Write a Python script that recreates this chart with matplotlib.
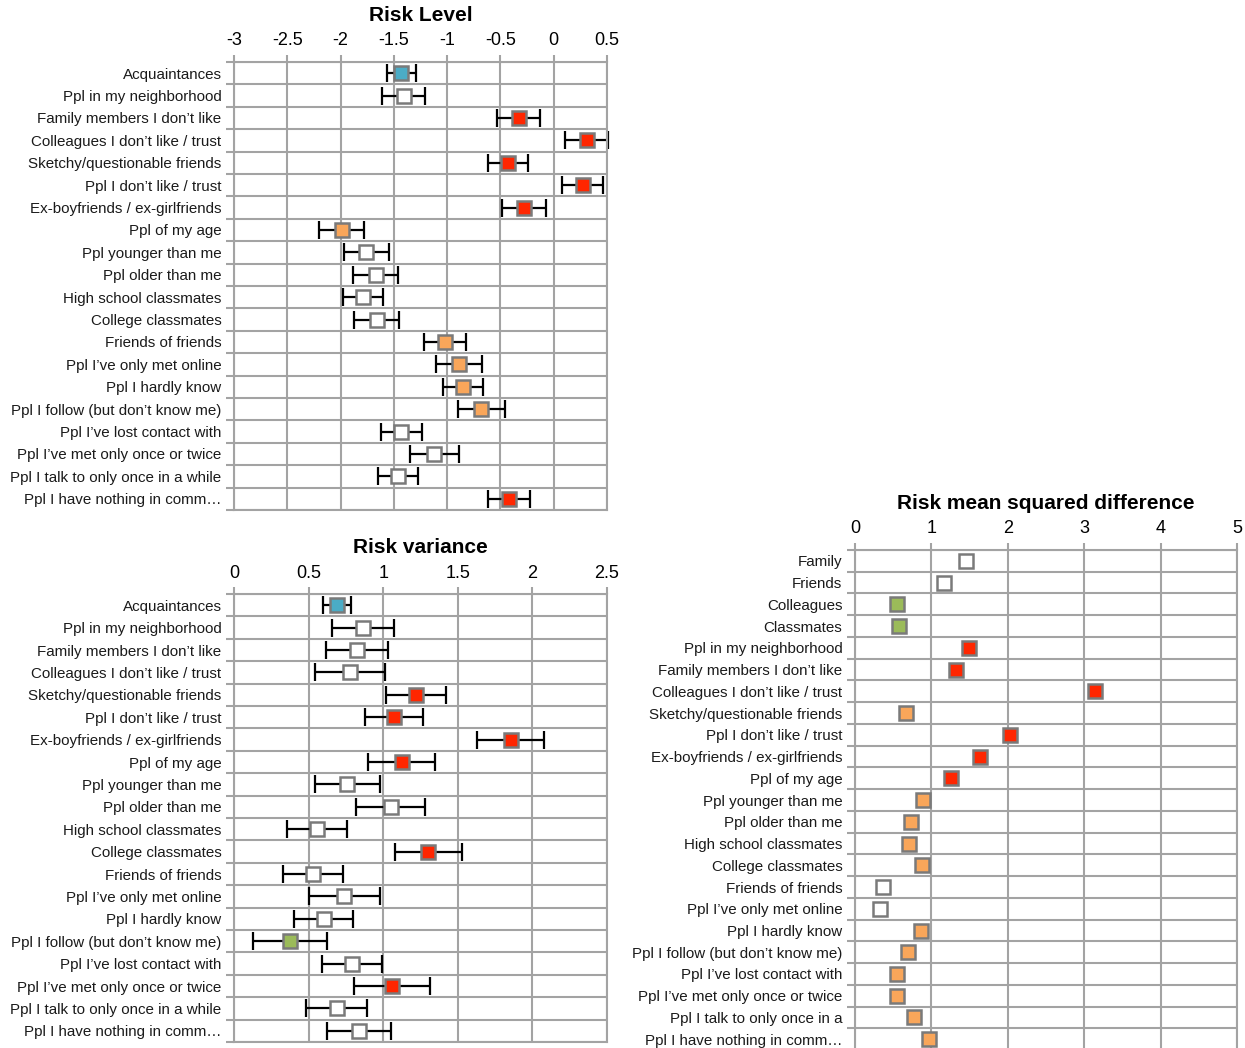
import numpy as np
import matplotlib
matplotlib.use('Agg')
import matplotlib.pyplot as plt
from matplotlib.ticker import FixedLocator

# row labels shared by the two left panels
groups = ['Acquaintances', 'Ppl in my neighborhood', 'Family members I don\u2019t like',
          'Colleagues I don\u2019t like / trust', 'Sketchy/questionable friends',
          'Ppl I don\u2019t like / trust', 'Ex-boyfriends / ex-girlfriends', 'Ppl of my age',
          'Ppl younger than me', 'Ppl older than me', 'High school classmates',
          'College classmates', 'Friends of friends', 'Ppl I\u2019ve only met online',
          'Ppl I hardly know', 'Ppl I follow (but don\u2019t know me)', 'Ppl I\u2019ve lost contact with',
          'Ppl I\u2019ve met only once or twice', 'Ppl I talk to only once in a while',
          'Ppl I have nothing in comm\u2026']

# risk level: mean and half-width of the interval
level_mean = [-1.43, -1.41, -0.33, 0.31, -0.43, 0.27, -0.28, -1.99, -1.76, -1.67,
              -1.79, -1.66, -1.02, -0.89, -0.85, -0.68, -1.43, -1.12, -1.46, -0.42]
level_err = [0.135, 0.20, 0.20, 0.20, 0.19, 0.19, 0.21, 0.21, 0.21, 0.21,
             0.19, 0.21, 0.20, 0.215, 0.19, 0.22, 0.19, 0.23, 0.19, 0.20]
level_col = ['b', 'w', 'r', 'r', 'r', 'r', 'r', 'o', 'w', 'w',
             'w', 'w', 'o', 'o', 'o', 'o', 'w', 'w', 'w', 'r']

# risk variance
var_mean = [0.69, 0.865, 0.823, 0.776, 1.219, 1.069, 1.855, 1.124, 0.76, 1.05,
            0.554, 1.303, 0.528, 0.739, 0.60, 0.375, 0.792, 1.058, 0.689, 0.839]
var_err = [0.092, 0.21, 0.21, 0.235, 0.20, 0.194, 0.225, 0.223, 0.22, 0.23,
           0.20, 0.225, 0.20, 0.24, 0.20, 0.25, 0.20, 0.255, 0.205, 0.215]
var_col = ['b', 'w', 'w', 'w', 'r', 'r', 'r', 'r', 'w', 'w',
           'w', 'r', 'w', 'w', 'w', 'g', 'w', 'r', 'w', 'w']

# risk mean squared difference
msd_groups = ['Family', 'Friends', 'Colleagues', 'Classmates', 'Ppl in my neighborhood',
              'Family members I don\u2019t like', 'Colleagues I don\u2019t like / trust',
              'Sketchy/questionable friends', 'Ppl I don\u2019t like / trust',
              'Ex-boyfriends / ex-girlfriends', 'Ppl of my age', 'Ppl younger than me',
              'Ppl older than me', 'High school classmates', 'College classmates',
              'Friends of friends', 'Ppl I\u2019ve only met online', 'Ppl I hardly know',
              'Ppl I follow (but don\u2019t know me)', 'Ppl I\u2019ve lost contact with',
              'Ppl I\u2019ve met only once or twice', 'Ppl I talk to only once in a',
              'Ppl I have nothing in comm\u2026']
msd_val = [1.45, 1.17, 0.55, 0.58, 1.49, 1.32, 3.14, 0.67, 2.035, 1.634, 1.263, 0.892,
           0.73, 0.705, 0.882, 0.365, 0.324, 0.866, 0.689, 0.553, 0.548, 0.767, 0.966]
msd_col = ['w', 'w', 'g', 'g', 'r', 'r', 'r', 'o', 'r', 'r', 'r', 'o',
           'o', 'o', 'o', 'w', 'w', 'o', 'o', 'o', 'o', 'o', 'o']

palette = {'b': '#4BACC6', 'w': '#FFFFFF', 'r': '#FF2600', 'o': '#F9A65A', 'g': '#9BBB59'}
grid_c = '#A3A3A3'
label_font = 'Liberation Sans'

fig = plt.figure(figsize=(12.45, 10.48), dpi=100)


def panel(rect, title, labels, vals, cols, xlim, xstep, err=None):
    ax = fig.add_axes(rect)
    n = len(labels)
    y = np.arange(n)
    ax.set_xlim(*xlim)
    ax.set_ylim(n - 0.5, -0.5)
    ax.set_xticks(np.arange(xlim[0], xlim[1] + 1e-9, xstep))
    ax.set_xticklabels(['%g' % t for t in ax.get_xticks()], fontsize=13,
                       family='Liberation Sans')
    ax.xaxis.tick_top()
    ax.tick_params(axis='x', length=5, width=1.5, color=grid_c, pad=4)
    ax.set_yticks(y)
    ax.set_yticklabels(labels, fontsize=10.9, family=label_font, color='#1a1a1a')
    ax.tick_params(axis='y', which='major', length=0, pad=9)
    ax.yaxis.set_minor_locator(FixedLocator(np.arange(n + 1) - 0.5))
    ax.tick_params(axis='y', which='minor', length=6, width=1.5, color=grid_c)
    ax.grid(axis='x', which='major', color=grid_c, lw=1.5, zorder=0)
    ax.grid(axis='y', which='minor', color=grid_c, lw=1.5, zorder=0)
    for s in ax.spines.values():
        s.set_color(grid_c)
        s.set_linewidth(1.5)
    ax.set_axisbelow(True)
    if err is not None:
        ax.errorbar(vals, y, xerr=err, fmt='none', ecolor='black', elinewidth=1.6,
                    capsize=6.5, capthick=1.6, zorder=2, clip_on=False)
    for xi, yi, c in zip(vals, y, cols):
        ax.plot(xi, yi, 's', ms=9.5, mfc=palette[c], mec='#7A7A7A', mew=1.8,
                zorder=3, clip_on=False)
    ax.set_title(title, fontsize=15, fontweight='bold', family='Liberation Sans', pad=8)
    return ax


panel([0.188, 0.5134, 0.2996, 0.4275], 'Risk Level', groups, level_mean, level_col,
      (-3, 0.5), 0.5, err=level_err)
panel([0.188, 0.0057, 0.2996, 0.4275], 'Risk variance', groups, var_mean, var_col,
      (0, 2.5), 0.5, err=var_err)
panel([0.6867, -0.002, 0.3068, 0.4772], 'Risk mean squared difference', msd_groups,
      msd_val, msd_col, (0, 5), 1)

fig.savefig('out.png', dpi=100)
